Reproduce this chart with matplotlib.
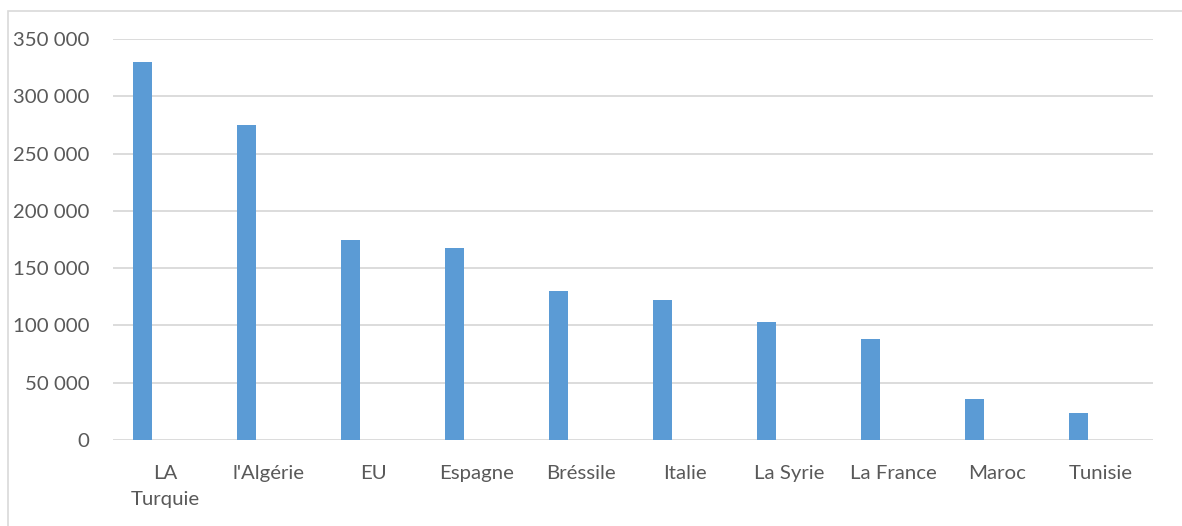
import matplotlib
matplotlib.use("Agg")
import matplotlib.pyplot as plt
from matplotlib.patches import Rectangle
from matplotlib.ticker import FuncFormatter

categories = ["LA\nTurquie", "l'Algérie", "EU", "Espagne", "Bréssile", "Italie",
              "La Syrie", "La France", "Maroc", "Tunisie"]
values = [330000, 275000, 175000, 168000, 130000, 122000, 103000, 88000, 36000, 24000]
yticks = [0, 50000, 100000, 150000, 200000, 250000, 300000, 350000]

plt.rcParams['font.family'] = ['Lato', 'DejaVu Sans']
W, H = 1182, 526
fig = plt.figure(figsize=(W / 100, H / 100), dpi=100)
fig.patch.set_facecolor('white')

# outer chart border
fig.add_artist(Rectangle((8 / W, -0.05), 1.1, 1 - 11 / H + 0.05, transform=fig.transFigure,
                         fill=False, edgecolor='#d9d9d9', linewidth=1.2))

ax = fig.add_axes([113 / W, 1 - 440 / H, (1153 - 113) / W, (440 - 39) / H])
x = list(range(len(categories)))
ax.bar([i - 0.216 for i in x], values, width=0.177, color='#5b9bd5', zorder=3)

ax.set_xlim(-0.5, len(categories) - 0.5)
ax.set_ylim(0, 350000)
ax.set_yticks(yticks)
ax.yaxis.set_major_formatter(FuncFormatter(lambda v, p: f"{int(v):,}".replace(",", " ")))
ax.set_xticks(x)
ax.set_xticklabels(categories, linespacing=1.65, va='top')
ax.grid(axis='y', color='#d9d9d9', linewidth=1.3, zorder=0)
for s in ax.spines.values():
    s.set_visible(False)
ax.tick_params(axis='both', length=0, labelsize=14.7, colors='#595959')
ax.tick_params(axis='y', pad=17)
ax.tick_params(axis='x', pad=18)

fig.savefig("out.png", dpi=100, facecolor='white')
